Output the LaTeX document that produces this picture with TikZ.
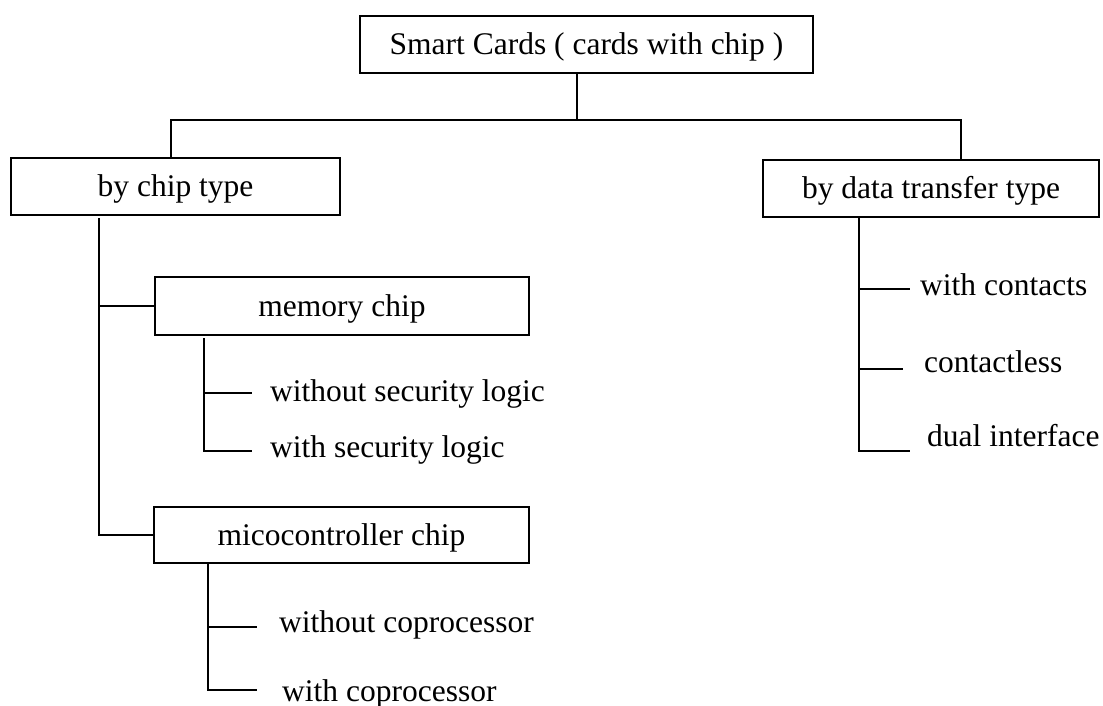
\documentclass[tikz,border=0pt]{standalone}
\usepackage{fontspec}
\setmainfont{Liberation Serif}
\begin{document}
\begin{tikzpicture}[x=1pt,y=-1pt,
  every node/.style={font=\fontsize{31.5}{36}\selectfont},
  box/.style={draw,line width=2.2pt,inner sep=0pt,text height=22pt,text depth=2pt},
  leaf/.style={anchor=base west,inner sep=0pt},
  conn/.style={line width=2.2pt}]
\useasboundingbox (0,0) rectangle (1103,706);
% boxes
\node[box,minimum width=453pt,minimum height=57pt] (top) at (586.5,44.5) {Smart Cards ( cards with chip )};
\node[box,minimum width=329pt,minimum height=57pt] (chip) at (175.5,186.5) {by chip type};
\node[box,minimum width=336pt,minimum height=57pt] (data) at (931,188.5) {by data transfer type};
\node[box,minimum width=374pt,minimum height=58pt] (mem) at (342,306) {memory chip};
\node[box,minimum width=375pt,minimum height=56pt] (mic) at (341.5,535) {micocontroller chip};
% leaves
\node[leaf] (wosl) at (270,401) {without security logic};
\node[leaf] (wsl) at (270,457) {with security logic};
\node[leaf] (woc) at (279,632) {without coprocessor};
\node[leaf] (wc) at (282,701) {with coprocessor};
\node[leaf] (cont) at (920,295) {with contacts};
\node[leaf] (cless) at (924,372) {contactless};
\node[leaf] (dual) at (927,446) {dual interface};
% junction coordinates
\coordinate (j) at (577,120);
\coordinate (hl) at (171,120);
\coordinate (hr) at (961,120);
\coordinate (cx) at (99,218);
\coordinate (mx) at (204,338);
\coordinate (ix) at (208,563);
\coordinate (dx) at (859,218);
\coordinate (e1) at (252,393);
\coordinate (e2) at (252,451);
\coordinate (e3) at (257,627);
\coordinate (e4) at (257,690);
\coordinate (e5) at (910,289);
\coordinate (e6) at (903,369);
\coordinate (e7) at (910,451);
% connectors
\draw[conn] (top.south -| j) -- (j);
\draw[conn] (chip.north -| hl) -- (hl) -- (hr) -- (data.north -| hr);
\draw[conn] (cx) |- (mic.west);
\draw[conn] (mem.west -| cx) -- (mem.west);
\draw[conn] (mx) |- (e2);
\draw[conn] (e1 -| mx) -- (e1);
\draw[conn] (ix) |- (e4);
\draw[conn] (e3 -| ix) -- (e3);
\draw[conn] (dx) |- (e7);
\draw[conn] (e5 -| dx) -- (e5);
\draw[conn] (e6 -| dx) -- (e6);
\end{tikzpicture}
\end{document}
